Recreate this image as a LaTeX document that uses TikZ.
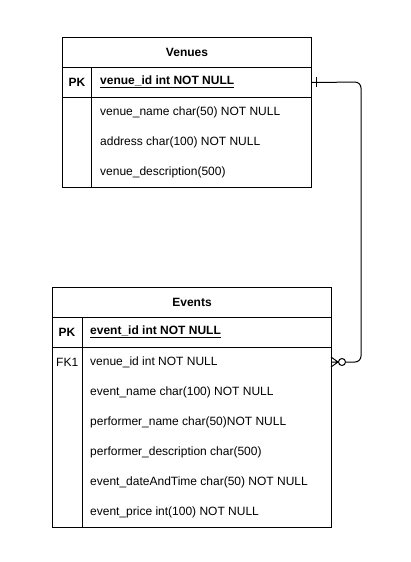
\documentclass[tikz,border=0pt]{standalone}
\usepackage{fontspec}
\setmainfont{Liberation Sans}
\begin{document}
\begin{tikzpicture}[x=1pt,y=1pt,
  box/.style={draw,line width=1pt,anchor=north west,inner sep=0pt},
  txt/.style={anchor=west,inner sep=0pt,font=\fontsize{12}{14}\selectfont},
  ctr/.style={inner sep=0pt,font=\fontsize{12}{14}\selectfont\bfseries},
  rel/.style={line width=1pt}]
\useasboundingbox (0,0) rectangle (410,-562);
% Venues
\node[box,minimum width=249,minimum height=30] (vtitle) at (62,-37) {};
\node[box,minimum width=249,minimum height=30] (vpk) at (62,-67) {};
\node[box,minimum width=249,minimum height=90] (vbody) at (62,-97) {};
\draw[line width=1pt] (91,-67) -- (91,-187);
\node[ctr] (vtt) at (vtitle.center) {Venues};
\node[ctr] (vpkl) at (77,-82) {PK};
\node[txt,font=\fontsize{12}{14}\selectfont\bfseries] (vpkt) at (100,-82) {\underline{venue\_id int NOT NULL}};
\node[txt] (v1) at (100,-112) {venue\_name char(50) NOT NULL};
\node[txt] (v2) at (100,-142) {address char(100) NOT NULL};
\node[txt] (v3) at (100,-172) {venue\_description(500)};
% Events
\node[box,minimum width=279,minimum height=30] (etitle) at (52,-287) {};
\node[box,minimum width=279,minimum height=30] (epk) at (52,-317) {};
\node[box,minimum width=279,minimum height=180] (ebody) at (52,-347) {};
\draw[line width=1pt] (82,-317) -- (82,-527);
\node[ctr] (ett) at (etitle.center) {Events};
\node[ctr] (epkl) at (67,-332) {PK};
\node[txt,font=\fontsize{12}{14}\selectfont\bfseries] (epkt) at (90,-332) {\underline{event\_id int NOT NULL}};
\node[txt] (efkl) at (56,-362) {FK1};
\node[txt] (e1) at (90,-362) {venue\_id int NOT NULL};
\node[txt] (e2) at (90,-392) {event\_name char(100) NOT NULL};
\node[txt] (e3) at (90,-422) {performer\_name char(50)NOT NULL};
\node[txt] (e4) at (90,-452) {performer\_description char(500)};
\node[txt] (e5) at (90,-482) {event\_dateAndTime char(50) NOT NULL};
\node[txt] (e6) at (90,-512) {event\_price int(100) NOT NULL};
% relation
\coordinate (vend) at (vpk.east);
\coordinate (eend) at (331,-362);
\coordinate (crowtip) at (338,-362);
\draw[rel,rounded corners=6pt] (vend) -- (361,-82) -- (361,-362) -- (crowtip);
\draw[rel] (316,-77) -- (316,-87);
\draw[rel] (crowtip) -- (331,-357) (crowtip) -- (eend) (crowtip) -- (331,-367);
\draw[rel,fill=white] (342,-362) circle (3.5);
\end{tikzpicture}
\end{document}
